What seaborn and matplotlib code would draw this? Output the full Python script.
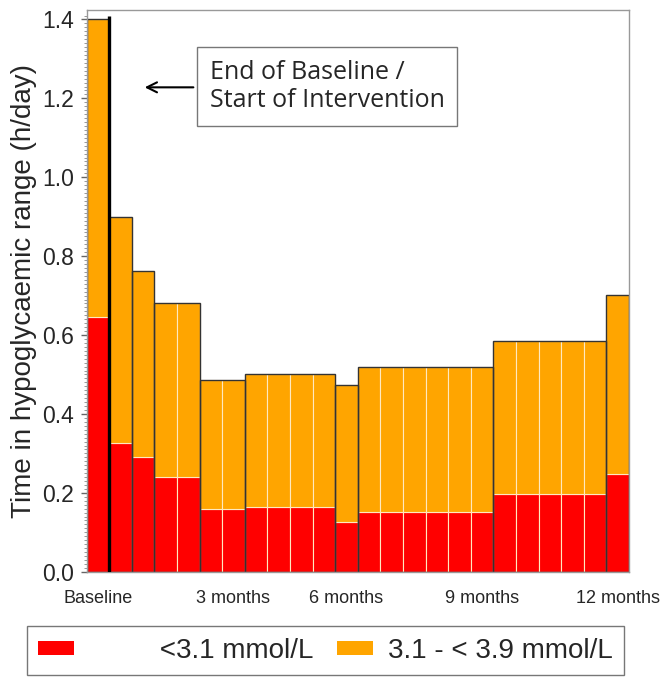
import numpy as np
import pandas as pd
import seaborn as sns
import matplotlib.pyplot as plt
from matplotlib.patches import Patch

# number of 2-week cells in each period and the mean hours/day per period
group_sizes = [1, 1, 1, 2, 2, 4, 1, 6, 5, 1]
below_31 = [0.647, 0.326, 0.290, 0.239, 0.158, 0.165, 0.127, 0.151, 0.196, 0.247]
range_31_39 = [0.753, 0.573, 0.473, 0.441, 0.328, 0.335, 0.346, 0.367, 0.388, 0.455]
tick_pos = [0.5, 6.5, 11.5, 17.5, 23.5]
tick_labels = ["Baseline", "3 months", "6 months", "9 months", "12 months"]
levels = ["<3.1 mmol/L", "3.1 - < 3.9 mmol/L"]
colors = {"<3.1 mmol/L": "#FF0000", "3.1 - < 3.9 mmol/L": "#FFA500"}
baseline_end = 1

sns.set_style("white")
plt.rcParams["font.family"] = ["Liberation Sans", "DejaVu Sans"]

# one row per cell and per range
n_cells = sum(group_sizes)
grp = np.repeat(np.arange(len(group_sizes)), group_sizes)
cell_mid = np.arange(n_cells) + 0.5
df = pd.DataFrame({
    "pos": np.concatenate([cell_mid, cell_mid]),
    "hours": np.concatenate([np.array(below_31)[grp], np.array(range_31_39)[grp]]),
    "range": [levels[0]] * n_cells + [levels[1]] * n_cells,
})
edges = np.concatenate([[0], np.cumsum(group_sizes)])
totals = pd.DataFrame({
    "pos": (edges[:-1] + edges[1:]) / 2,
    "hours": np.array(below_31) + np.array(range_31_39),
})

fig = plt.figure(figsize=(6.61, 6.77), dpi=100)
ax = fig.add_axes([0.1309, 0.1555, 0.8207, 0.8297])

sns.histplot(df, x="pos", weights="hours", hue="range", hue_order=levels[::-1],
             multiple="stack", bins=list(range(n_cells + 1)), palette=colors,
             alpha=1, edgecolor="#FFE9C0", linewidth=0.8, legend=False, ax=ax)
sns.histplot(totals, x="pos", weights="hours", bins=[float(e) for e in edges], fill=False,
             color="#333333", linewidth=1.0, ax=ax)

ax.vlines(baseline_end, 0, 1.41, color="black", linewidth=2.4, zorder=5)

ax.set_xlim(0, n_cells)
ax.set_ylim(0, 1.424)
ax.set_xticks(tick_pos)
ax.set_xticklabels(tick_labels, fontsize=13)
ax.tick_params(axis="x", length=0, pad=13)
ax.set_yticks(np.arange(0, 1.41, 0.2))
ax.set_yticklabels([f"{v:.1f}" for v in np.arange(0, 1.41, 0.2)], fontsize=16.5)
ax.set_yticks(np.arange(0, 1.42, 0.01), minor=True)
ax.tick_params(axis="y", which="major", left=True, length=4, width=1, color="#666666", pad=5)
ax.tick_params(axis="y", which="minor", left=True, length=2, width=0.6, color="#888888")
ax.set_xlabel("")
ax.set_ylabel("Time in hypoglycaemic range (h/day)", fontsize=20, labelpad=4)
for s in ax.spines.values():
    s.set_color("#999999")
    s.set_linewidth(1)

ax.text(5.45, 1.230, "End of Baseline /\nStart of Intervention",
        family=["Open Sans", "DejaVu Sans"], fontsize=18, ha="left", va="center",
        linespacing=1.2,
        bbox=dict(boxstyle="square,pad=0.5", fc="white", ec="#777777", lw=1))
ax.annotate("", xy=(2.45, 1.228), xytext=(4.85, 1.228),
            arrowprops=dict(arrowstyle="->", color="black", lw=1.5, mutation_scale=18))

handles = [Patch(facecolor=colors[l], edgecolor="none") for l in levels]
fig.legend(handles, ["         " + levels[0], levels[1]], loc="center",
           bbox_to_anchor=(325.5 / 661, 1 - 650.5 / 677), ncol=2, fontsize=20,
           frameon=True, fancybox=False, edgecolor="#777777", framealpha=1,
           handlelength=1.3, handleheight=0.4, handletextpad=0.55,
           columnspacing=0.85, borderpad=0.4)

fig.savefig("out.png", dpi=100)
